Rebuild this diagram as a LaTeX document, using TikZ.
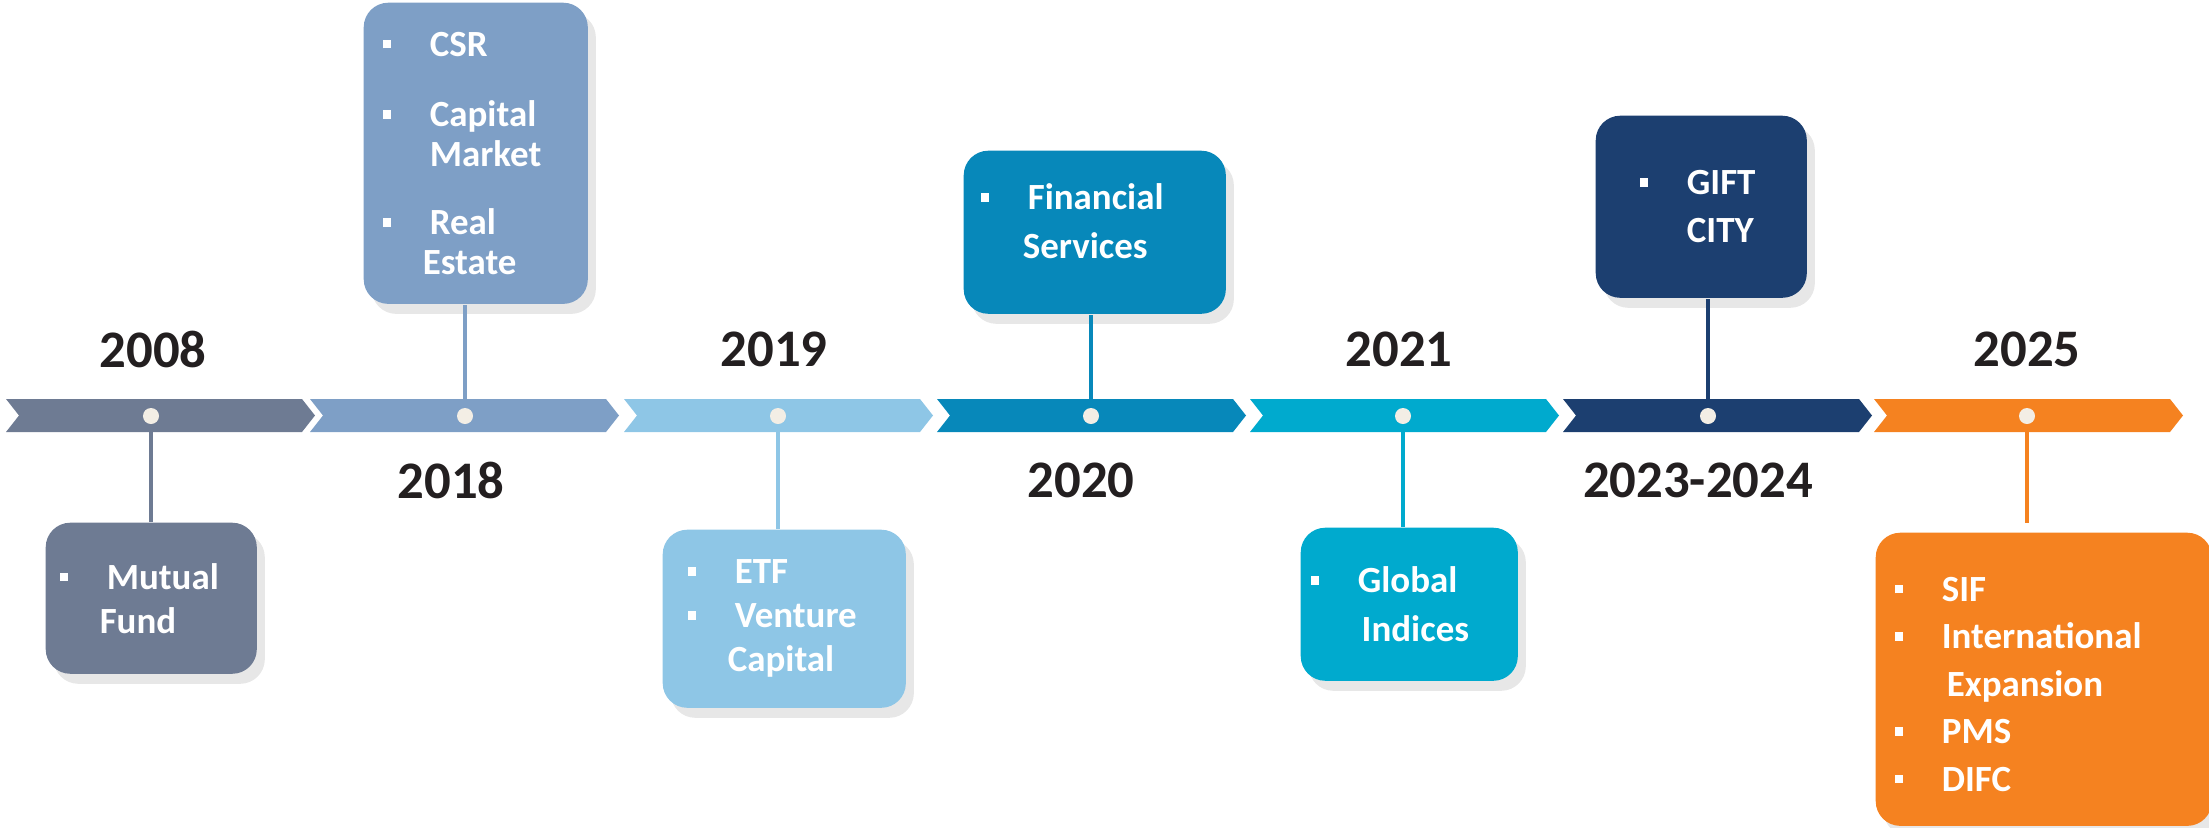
\documentclass[tikz,border=0pt]{standalone}
\usepackage{fontspec}
\setmainfont{Carlito}
\usetikzlibrary{shadows}
\definecolor{fundgray}{HTML}{6E7B93}
\definecolor{csrblue}{HTML}{7E9FC6}
\definecolor{etfblue}{HTML}{8EC6E6}
\definecolor{finblue}{HTML}{0788BA}
\definecolor{idxcyan}{HTML}{00AACE}
\definecolor{giftnavy}{HTML}{1C3F70}
\definecolor{sifor}{HTML}{F58220}
\definecolor{dotcream}{HTML}{F3EEE5}
\definecolor{shadowgray}{HTML}{E7E7E7}
\definecolor{yearblack}{HTML}{231F20}
\newcommand{\sqbul}{\makebox[13.4pt][l]{\rule[2.3pt]{2.4pt}{2.4pt}}}
\newcommand{\boxfont}[1]{\fontsize{10.5pt}{#1}\selectfont\bfseries}

\begin{document}
\begin{tikzpicture}[x=0.01cm, y=-0.01cm,
  year/.style={font=\fontsize{15pt}{18pt}\selectfont\bfseries, text=yearblack, inner sep=0},
  dot/.style={circle, fill=dotcream, minimum size=0.16cm, inner sep=0},
  box/.style={rounded corners=7pt, text=white, align=left, anchor=north west, inner ysep=0,
    drop shadow={shadow xshift=0.08cm, shadow yshift=-0.1cm, fill=shadowgray, opacity=1}},
  conn/.style={line width=1.4pt}]
\useasboundingbox (0,0) rectangle (2209,827);
% time line
\foreach \i/\x/\d/\c in {1/6/151/fundgray, 2/310/465/csrblue, 3/624/778/etfblue, 4/937/1091/finblue,
  5/1250/1403/idxcyan, 6/1563/1708/giftnavy, 7/1874/2027/sifor} {
 \fill[\c] (\x,399) -- ++(296,0) -- ++(13,16.5) -- ++(-13,16.5) -- ++(-296,0) -- ++(13,-16.5) -- cycle;
 \node[dot] (d\i) at (\d,416) {};
}
% years
\node[year] (y1) at (153,349) {2008};
\node[year] (y2) at (451,480) {2018};
\node[year] (y3) at (774,349) {2019};
\node[year] (y4) at (1081,480) {2020};
\node[year] (y5) at (1399,349) {2021};
\node[year] (y6) at (1698,480) {2023-2024};
\node[year] (y7) at (2027,349) {2025};
% boxes
\node[box, fill=fundgray, inner xsep=0.14cm, text width=1.83cm, minimum height=1.51cm, font=\boxfont{12.5pt}]
 (b1) at (45,522) {\sqbul Mutual\\\hspace*{11.4pt}Fund};
\node[box, fill=csrblue, inner xsep=0.19cm, text width=1.86cm, minimum height=3.01cm, font=\boxfont{11.2pt}]
 (b2) at (363,2) {\sqbul CSR\\[8.8pt]\sqbul Capital\\\hspace*{13.4pt}Market\\[8.3pt]\sqbul Real\\\hspace*{11.4pt}Estate};
\node[box, fill=etfblue, inner xsep=0.25cm, text width=1.93cm, minimum height=1.78cm, font=\boxfont{12.5pt}]
 (b3) at (662,529) {\sqbul ETF\\\sqbul Venture\\\hspace*{11.4pt}Capital};
\node[box, fill=finblue, inner xsep=0.17cm, text width=2.28cm, minimum height=1.63cm, text depth=0.71cm, font=\boxfont{14pt}]
 (b4) at (963,150) {\sqbul Financial\\\hspace*{12pt}Services};
\node[box, fill=idxcyan, inner xsep=0.10cm, text width=1.97cm, minimum height=1.53cm, font=\boxfont{13.7pt}]
 (b5) at (1300,527) {\sqbul Global\\\hspace*{14.5pt}Indices};
\node[box, fill=giftnavy, inner xsep=0.44cm, text width=1.23cm, minimum height=1.82cm, font=\boxfont{13.7pt}]
 (b6) at (1595,115) {\sqbul GIFT\\\hspace*{13.4pt}CITY};
\node[box, fill=sifor, inner xsep=0.19cm, text width=2.98cm, minimum height=2.93cm, text depth=1.8cm, font=\boxfont{13.5pt}]
 (b7) at (1875,532) {\sqbul SIF\\\sqbul International\\\hspace*{14.8pt}Expansion\\\sqbul PMS\\\sqbul DIFC};
% connectors
\draw[conn, fundgray] (d1.south) -- (d1 |- b1.north);
\draw[conn, csrblue] (d2.north) -- (d2 |- b2.south);
\draw[conn, etfblue] (d3.south) -- (d3 |- b3.north);
\draw[conn, finblue] (d4.north) -- (d4 |- b4.south);
\draw[conn, idxcyan] (d5.south) -- (d5 |- b5.north);
\draw[conn, giftnavy] (d6.north) -- (d6 |- b6.south);
\draw[conn, sifor, line width=1.1pt, shorten >=0.09cm] (d7.south) -- (d7 |- b7.north);
\end{tikzpicture}
\end{document}
